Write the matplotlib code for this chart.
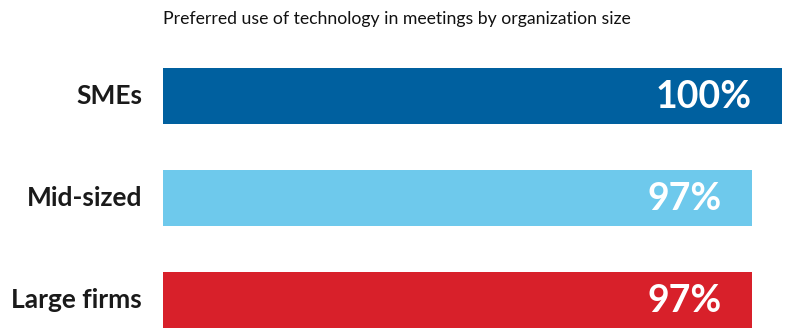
import matplotlib.pyplot as plt

CATEGORIES = ["SMEs", "Mid-sized", "Large firms"]
VALUES = [100, 97, 97]
LABELS = ["100%", "97%", "97%"]
COLORS = ["#00609f", "#6ec9ec", "#d8202a"]
TITLE = "Preferred use of technology in meetings by organization size"

W, H = 798, 335
plt.rcParams["font.family"] = ["Lato", "DejaVu Sans"]

fig = plt.figure(figsize=(W / 100, H / 100), dpi=100)
left, right = 163, 782
ax = fig.add_axes([left / W, 0, (right - left) / W, 1])
# the original uses a truncated value axis (3 points = 30 px)
x0 = 38.1
ax.set_xlim(x0, 100)
# bar centres at 96, 198, 300 px from the top, 102 px apart
ax.set_ylim((H - 96) / 102, -96 / 102)
ax.axis("off")

ypos = range(len(CATEGORIES))
ax.barh(ypos, VALUES, height=56 / 102, color=COLORS)
px = (100 - x0) / (right - left)
for y, v, lab, cat in zip(ypos, VALUES, LABELS, CATEGORIES):
    ax.text(v - 30 * px, y + 0.01, lab, color="white", fontsize=27, fontweight="bold",
            ha="right", va="center")
    ax.text(x0 - 21 * px, y, cat, color="#1a1a1a", fontsize=19, fontweight="bold",
            ha="right", va="center")

fig.text(left / W, 1 - 19 / H, TITLE, fontsize=12.7, color="#111111",
         ha="left", va="center")

fig.savefig("out.png", dpi=100)
